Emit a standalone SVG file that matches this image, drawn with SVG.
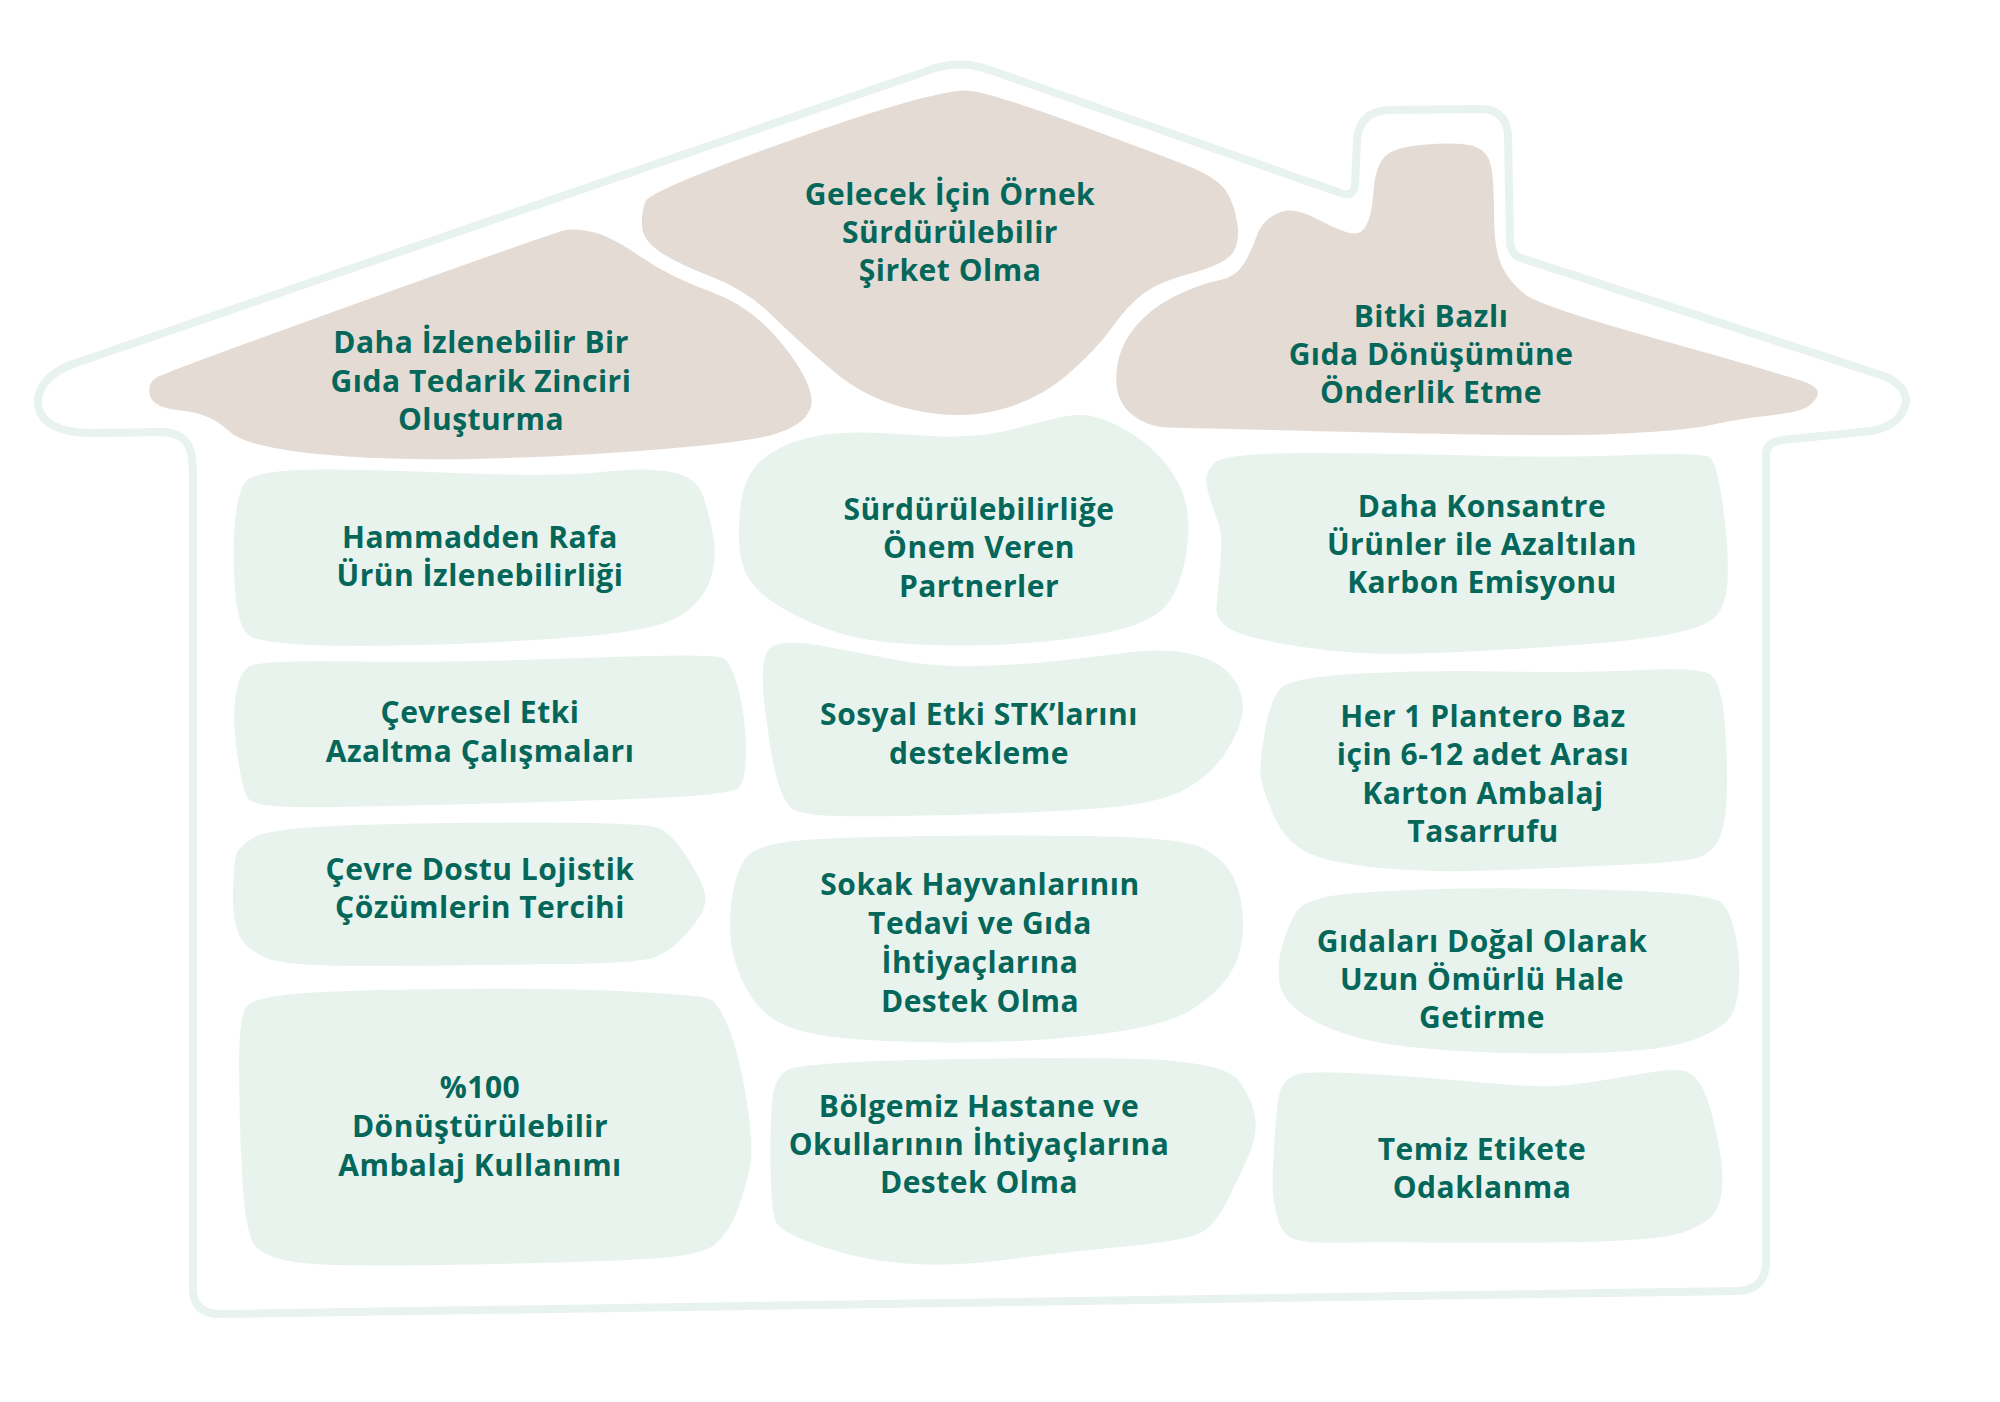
<svg xmlns="http://www.w3.org/2000/svg" width="2000" height="1402" viewBox="0 0 2000 1402">
<style>
.roof{fill:#e5dbd5}
.box{fill:#e8f3ee}
.outline{fill:none;stroke:#e8f2ee;stroke-width:8;stroke-linejoin:round;stroke-linecap:round}
text{font-family:"Open Sans","Noto Sans","Liberation Sans",sans-serif;font-weight:700;font-size:30px;letter-spacing:0.5px;fill:#04675a;text-anchor:middle}
</style>
<rect width="2000" height="1402" fill="#ffffff"/>
<g id="house-outline">
<path class="outline" d="M193,470 L193,1290 Q194,1314 220,1314 L1738,1291 Q1766,1289 1766,1262 L1766,455 Q1766,442 1782,440 L1872,431 Q1904,424 1906,400 Q1905,385 1884,376 L1518,257 Q1510,252 1510,240 L1508,135 Q1506,110 1482,109 L1388,110 Q1359,112 1357,140 L1355,185 Q1353,199 1338,192 L990,70 Q957,58 924,72 L70,365 Q36,380 38,405 Q42,432 90,433 L165,432 Q190,435 192,458 Z"/>
</g>
<g id="roof-left">
<path class="roof" d="M156.5,377.5 Q147,383 150,395.5 Q153,408 181.5,410.5 Q210,413 229.5,431.5 Q249,450 347.5,456.5 Q446,463 593,454 Q740,445 775,434 Q810,423 811.5,403 Q813,383 783,345 Q753,307 711.5,292 Q670,277 641,257 Q612,237 594.5,232.5 Q577,228 566,230 Q555,232 360.5,302 Q166,372 156.5,377.5Z"/>
<text x="481" y="353">Daha İzlenebilir Bir</text>
<text x="481" y="392">Gıda Tedarik Zinciri</text>
<text x="481" y="430">Oluşturma</text>
</g>
<g id="roof-center">
<path class="roof" d="M642,226.5 Q641,213 645.5,201.5 Q650,190 797,138 Q944,86 972,91 Q1000,96 1073.5,123 Q1147,150 1182,163.5 Q1217,177 1226,191 Q1235,205 1237.5,225 Q1240,245 1231,255 Q1222,265 1190.5,273.5 Q1159,282 1143.5,293.5 Q1128,305 1112,327.5 Q1096,350 1067,375 Q1038,400 999,410 Q960,420 913.5,410 Q867,400 832,370 Q797,340 771.5,315 Q746,290 711,276.5 Q676,263 659.5,251.5 Q643,240 642,226.5Z"/>
<text x="950" y="205">Gelecek İçin Örnek</text>
<text x="950" y="243">Sürdürülebilir</text>
<text x="950" y="281">Şirket Olma</text>
</g>
<g id="roof-right">
<path class="roof" d="M1373.5,191.5 Q1375,168 1384,157.5 Q1393,147 1426,144.5 Q1459,142 1473,146 Q1487,150 1490.5,164 Q1494,178 1494,214 Q1494,250 1502,266.5 Q1510,283 1526,295 Q1542,307 1669.5,342.5 Q1797,378 1809.5,384 Q1822,390 1816,398.5 Q1810,407 1800.5,410 Q1791,413 1762,416.5 Q1733,420 1711,425 Q1689,430 1625,433.5 Q1561,437 1376,432.5 Q1191,428 1169,427.5 Q1147,427 1132.5,415 Q1118,403 1116.5,385 Q1115,367 1121.5,350 Q1128,333 1143.5,318 Q1159,303 1181.5,293 Q1204,283 1220,280 Q1236,277 1244,263.5 Q1252,250 1256.5,236.5 Q1261,223 1272.5,216 Q1284,209 1295,211 Q1306,213 1319,220 Q1332,227 1346,232 Q1360,237 1366,226 Q1372,215 1373.5,191.5Z"/>
<text x="1431" y="327">Bitki Bazlı</text>
<text x="1431" y="365">Gıda Dönüşümüne</text>
<text x="1431" y="403">Önderlik Etme</text>
</g>
<g id="box-hammadden">
<path class="box" d="M235,521.5 Q238,493 244.5,483 Q251,473 289.5,470.5 Q328,468 442.5,472.5 Q557,477 601.5,472 Q646,467 671.5,472 Q697,477 703.5,497 Q710,517 713.5,537 Q717,557 710.5,578.5 Q704,600 681.5,615 Q659,630 589,636 Q519,642 439,644.5 Q359,647 311.5,645 Q264,643 251,636.5 Q238,630 235,590 Q232,550 235,521.5Z"/>
<text x="480" y="548">Hammadden Rafa</text>
<text x="480" y="586">Ürün İzlenebilirliği</text>
</g>
<g id="box-partnerler">
<path class="box" d="M740,552.5 Q737,530 741.5,500 Q746,470 768,455 Q790,440 822,435 Q854,430 914.5,435 Q975,440 1016,428.5 Q1057,417 1075,415 Q1093,413 1119.5,426.5 Q1146,440 1164,461.5 Q1182,483 1186.5,506.5 Q1191,530 1185,560 Q1179,590 1166.5,605 Q1154,620 1123.5,628.5 Q1093,637 1039.5,642 Q986,647 932.5,645 Q879,643 852,636.5 Q825,630 798,616.5 Q771,603 757,589 Q743,575 740,552.5Z"/>
<text x="979" y="520">Sürdürülebilirliğe</text>
<text x="979" y="558">Önem Veren</text>
<text x="979" y="597">Partnerler</text>
</g>
<g id="box-karbon">
<path class="box" d="M1217.5,520 Q1212,507 1207.5,490 Q1203,473 1214.5,463 Q1226,453 1306.5,453 Q1387,453 1473,455.5 Q1559,458 1631,455 Q1703,452 1710,457.5 Q1717,463 1723,506.5 Q1729,550 1727.5,580 Q1726,610 1711.5,620 Q1697,630 1657,636.5 Q1617,643 1516.5,649 Q1416,655 1373,653.5 Q1330,652 1287,644.5 Q1244,637 1229.5,628.5 Q1215,620 1216.5,605 Q1218,590 1220.5,561.5 Q1223,533 1217.5,520Z"/>
<text x="1482" y="517">Daha Konsantre</text>
<text x="1482" y="555">Ürünler ile Azaltılan</text>
<text x="1482" y="593">Karbon Emisyonu</text>
</g>
<g id="box-cevresel">
<path class="box" d="M237.5,756.5 Q232,720 235.5,696 Q239,672 250,666 Q261,660 355.5,661.5 Q450,663 582,658 Q714,653 723,658 Q732,663 739,691.5 Q746,720 746,750 Q746,780 739,787.5 Q732,795 644.5,798.5 Q557,802 432,805 Q307,808 280.5,806.5 Q254,805 248.5,799 Q243,793 237.5,756.5Z"/>
<text x="480" y="723">Çevresel Etki</text>
<text x="480" y="762">Azaltma Çalışmaları</text>
</g>
<g id="box-sosyal">
<path class="box" d="M765,708.5 Q759,660 769,649 Q779,638 820,645.5 Q861,653 896.5,660 Q932,667 976.5,666 Q1021,665 1057,661 Q1093,657 1128.5,652.5 Q1164,648 1191,654 Q1218,660 1230.5,675 Q1243,690 1243,706.5 Q1243,723 1228.5,748 Q1214,773 1187.5,788 Q1161,803 1109,807.5 Q1057,812 968,814.5 Q879,817 837.5,816 Q796,815 789,806 Q782,797 776.5,777 Q771,757 765,708.5Z"/>
<text x="979" y="725">Sosyal Etki STK’larını</text>
<text x="979" y="764">destekleme</text>
</g>
<g id="box-plantero">
<path class="box" d="M1264.5,733.5 Q1270,700 1280.5,688.5 Q1291,677 1362.5,673.5 Q1434,670 1505.5,671.5 Q1577,673 1639.5,670 Q1702,667 1711,675 Q1720,683 1723.5,711.5 Q1727,740 1727,780 Q1727,820 1720,836.5 Q1713,853 1698.5,857.5 Q1684,862 1630.5,864.5 Q1577,867 1505.5,870 Q1434,873 1380.5,868 Q1327,863 1305.5,851.5 Q1284,840 1273.5,815 Q1263,790 1261,778.5 Q1259,767 1264.5,733.5Z"/>
<text x="1483" y="727">Her 1 Plantero Baz</text>
<text x="1483" y="765">için 6-12 adet Arası</text>
<text x="1483" y="804">Karton Ambalaj</text>
<text x="1483" y="842">Tasarrufu</text>
</g>
<g id="box-lojistik">
<path class="box" d="M233,890 Q234,860 236.5,853.5 Q239,847 253.5,837.5 Q268,828 359,825 Q450,822 548,822.5 Q646,823 658.5,828 Q671,833 685.5,855 Q700,877 704,890 Q708,903 700.5,915 Q693,927 682,938.5 Q671,950 657,956.5 Q643,963 564.5,964 Q486,965 387.5,966 Q289,967 267.5,958.5 Q246,950 239,935 Q232,920 233,890Z"/>
<text x="480" y="880">Çevre Dostu Lojistik</text>
<text x="480" y="918">Çözümlerin Tercihi</text>
</g>
<g id="box-sokak">
<path class="box" d="M730,928 Q730,903 734.5,885 Q739,867 746,857.5 Q753,848 780,843 Q807,838 896.5,836.5 Q986,835 1084,836 Q1182,837 1203.5,848.5 Q1225,860 1234,878.5 Q1243,897 1243,925 Q1243,953 1230.5,973 Q1218,993 1191,1010 Q1164,1027 1092.5,1035 Q1021,1043 950,1042.5 Q879,1042 837.5,1037.5 Q796,1033 775,1020 Q754,1007 742,980 Q730,953 730,928Z"/>
<text x="980" y="895">Sokak Hayvanlarının</text>
<text x="980" y="934">Tedavi ve Gıda</text>
<text x="980" y="973">İhtiyaçlarına</text>
<text x="980" y="1012">Destek Olma</text>
</g>
<g id="box-dogal">
<path class="box" d="M1284,940 Q1291,920 1296.5,911.5 Q1302,903 1323.5,897.5 Q1345,892 1425.5,889.5 Q1506,887 1609.5,890 Q1713,893 1722,903 Q1731,913 1735.5,935 Q1740,957 1739,982 Q1738,1007 1729,1018.5 Q1720,1030 1693,1040 Q1666,1050 1603.5,1052.5 Q1541,1055 1470,1051.5 Q1399,1048 1363,1039 Q1327,1030 1304,1015 Q1281,1000 1279,980 Q1277,960 1284,940Z"/>
<text x="1482" y="952">Gıdaları Doğal Olarak</text>
<text x="1482" y="990">Uzun Ömürlü Hale</text>
<text x="1482" y="1028">Getirme</text>
</g>
<g id="box-ambalaj">
<path class="box" d="M242,1173 Q239,1113 239,1063 Q239,1013 248,1005 Q257,997 300,993.5 Q343,990 450,989 Q557,988 628.5,991.5 Q700,995 709,998.5 Q718,1002 728.5,1027.5 Q739,1053 746.5,1100 Q754,1147 750,1167 Q746,1187 737.5,1210 Q729,1233 714.5,1245 Q700,1257 628.5,1260 Q557,1263 441,1265 Q325,1267 294.5,1262 Q264,1257 254.5,1245 Q245,1233 242,1173Z"/>
<text x="480" y="1098">%100</text>
<text x="480" y="1137">Dönüştürülebilir</text>
<text x="480" y="1176">Ambalaj Kullanımı</text>
</g>
<g id="box-hastane">
<path class="box" d="M770.5,1166.5 Q770,1120 772.5,1098.5 Q775,1077 787.5,1070 Q800,1063 910.5,1060 Q1021,1057 1123,1058.5 Q1225,1060 1239.5,1081.5 Q1254,1103 1255.5,1120 Q1257,1137 1248,1157 Q1239,1177 1228.5,1198.5 Q1218,1220 1205.5,1230 Q1193,1240 1125,1246.5 Q1057,1253 1003.5,1260 Q950,1267 905.5,1263.5 Q861,1260 821.5,1246.5 Q782,1233 776.5,1223 Q771,1213 770.5,1166.5Z"/>
<text x="979" y="1117">Bölgemiz Hastane ve</text>
<text x="979" y="1155">Okullarının İhtiyaçlarına</text>
<text x="979" y="1193">Destek Olma</text>
</g>
<g id="box-etiket">
<path class="box" d="M1274.5,1138.5 Q1277,1100 1280.5,1090 Q1284,1080 1295,1075 Q1306,1070 1370,1074 Q1434,1078 1487.5,1083 Q1541,1088 1568,1085 Q1595,1082 1634.5,1075 Q1674,1068 1684.5,1071 Q1695,1074 1702,1087 Q1709,1100 1716.5,1133.5 Q1724,1167 1722,1188.5 Q1720,1210 1709.5,1218.5 Q1699,1227 1682.5,1232.5 Q1666,1238 1621.5,1240.5 Q1577,1243 1470,1242.5 Q1363,1242 1336,1242.5 Q1309,1243 1296.5,1240 Q1284,1237 1279,1222 Q1274,1207 1273,1192 Q1272,1177 1274.5,1138.5Z"/>
<text x="1482" y="1160">Temiz Etikete</text>
<text x="1482" y="1198">Odaklanma</text>
</g>
</svg>
